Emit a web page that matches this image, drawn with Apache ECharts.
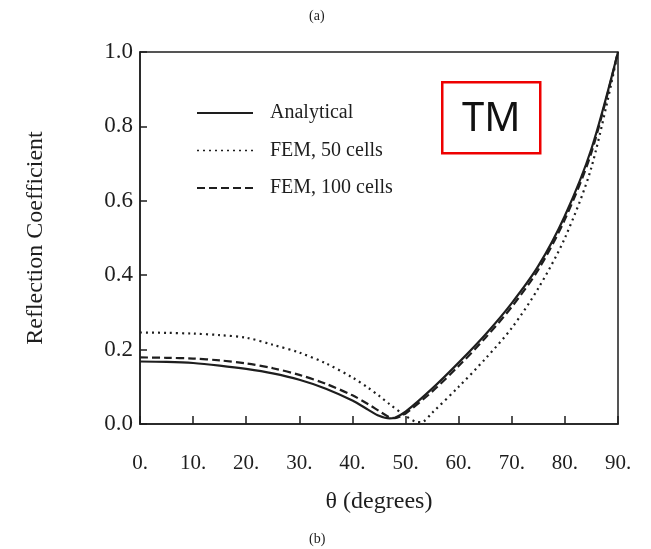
<!DOCTYPE html>
<html>
<head>
<meta charset="utf-8">
<script src="https://cdn.jsdelivr.net/npm/echarts@6/dist/echarts.min.js"></script>
<style>
  html, body { margin: 0; padding: 0; background: #fff; }
  #chart { width: 651px; height: 549px; }
</style>
</head>
<body>
<div id="chart"></div>
<script>
// Incidence angle (degrees) and reflection coefficient for each curve
const analyticalAngles = [0, 5, 10, 15, 20, 25, 30, 35, 40, 43, 45, 47, 48, 50, 55, 60, 65, 70, 75, 80, 85, 90];
const analyticalValues = [0.168, 0.167, 0.164, 0.157, 0.148, 0.136, 0.119, 0.095, 0.063, 0.038, 0.022, 0.015, 0.017, 0.033, 0.095, 0.165, 0.24, 0.325, 0.425, 0.56, 0.74, 1.0];

const fem50Angles = [0, 5, 10, 15, 20, 25, 30, 35, 40, 43, 45, 47, 50, 52, 53, 55, 60, 65, 70, 75, 80, 85, 90];
const fem50Values = [0.246, 0.245, 0.243, 0.239, 0.232, 0.213, 0.192, 0.163, 0.125, 0.097, 0.076, 0.053, 0.022, 0.006, 0.005, 0.03, 0.1, 0.175, 0.258, 0.365, 0.5, 0.69, 1.0];

const fem100Angles = [0, 5, 10, 15, 20, 25, 30, 35, 40, 43, 45, 47, 48, 49, 50, 55, 60, 65, 70, 75, 80, 85, 90];
const fem100Values = [0.179, 0.178, 0.176, 0.171, 0.163, 0.15, 0.132, 0.108, 0.077, 0.053, 0.035, 0.018, 0.016, 0.02, 0.028, 0.087, 0.156, 0.231, 0.315, 0.415, 0.55, 0.73, 1.0];

const seriesNames = ['Analytical', 'FEM, 50 cells', 'FEM, 100 cells'];
const xTicks = [0, 10, 20, 30, 40, 50, 60, 70, 80, 90];
const yTicks = [0.0, 0.2, 0.4, 0.6, 0.8, 1.0];

const ink = '#1e1e1e';
const serif = '"Liberation Serif", "DejaVu Serif", serif';
const dashStyles = ['solid', [2, 4], [8, 4]];

function pairs(xs, ys) { return xs.map((x, i) => [x, ys[i]]); }

// Key drawn as sample line + label rows inside the plot area
const legendRows = [];
seriesNames.forEach((name, i) => {
  const y = 113 + i * 37.5;
  legendRows.push({
    type: 'line', shape: { x1: 197, y1: y, x2: 253, y2: y },
    style: { stroke: ink, lineWidth: i === 1 ? 1.4 : 2, lineDash: dashStyles[i] === 'solid' ? null : dashStyles[i] }
  });
  legendRows.push({
    type: 'text', x: 270, y: y,
    style: { text: name, fontFamily: serif, fontSize: 20, fill: ink, verticalAlign: 'middle' }
  });
});

const chart = echarts.init(document.getElementById('chart'), null, { renderer: 'canvas' });

chart.setOption({
  backgroundColor: '#ffffff',
  animation: false,
  grid: {
    left: 140, right: 33, top: 52, bottom: 125,
    show: true, borderColor: ink, borderWidth: 1.5, backgroundColor: 'transparent'
  },
  xAxis: {
    type: 'value', min: 0, max: 90, interval: 10,
    name: 'θ (degrees)', nameLocation: 'middle', nameGap: 66,
    nameTextStyle: { fontFamily: serif, fontSize: 24, color: ink },
    axisLine: { show: true, lineStyle: { color: ink, width: 1.5 } },
    axisTick: { show: true, inside: true, length: 8, lineStyle: { color: ink, width: 1.5 } },
    axisLabel: {
      margin: 29, fontFamily: serif, fontSize: 21, color: ink,
      formatter: v => xTicks.includes(v) ? v + '.' : ''
    },
    splitLine: { show: false }
  },
  yAxis: {
    type: 'value', min: 0, max: 1, interval: 0.2,
    name: 'Reflection Coefficient', nameLocation: 'middle', nameGap: 92,
    nameTextStyle: { fontFamily: serif, fontSize: 24, color: ink },
    axisLine: { show: true, lineStyle: { color: ink, width: 1.5 } },
    axisTick: { show: true, inside: true, length: 7, lineStyle: { color: ink, width: 1.5 } },
    axisLabel: {
      margin: 7, fontFamily: serif, fontSize: 23, color: ink,
      formatter: v => yTicks.some(t => Math.abs(t - v) < 1e-9) ? v.toFixed(1) : ''
    },
    splitLine: { show: false }
  },
  series: seriesNames.map((name, i) => ({
    name: name, type: 'line', smooth: 0.3, showSymbol: false, symbol: 'none',
    data: [
      pairs(analyticalAngles, analyticalValues),
      pairs(fem50Angles, fem50Values),
      pairs(fem100Angles, fem100Values)
    ][i],
    lineStyle: { color: ink, width: 2.2, type: dashStyles[i] },
    itemStyle: { color: ink }
  })),
  graphic: [
    {
      type: 'text', left: 309, top: 9,
      style: { text: '(a)', fontFamily: serif, fontSize: 14, fill: ink }
    },
    {
      type: 'text', left: 309, top: 532,
      style: { text: '(b)', fontFamily: serif, fontSize: 14, fill: ink }
    },
    ...legendRows,
    {
      type: 'group', left: 441, top: 81,
      children: [
        {
          type: 'rect', shape: { x: 0, y: 0, width: 98, height: 71 },
          style: { fill: '#ffffff', stroke: '#ee0000', lineWidth: 2.5 }
        },
        {
          type: 'text', x: 49, y: 37,
          style: {
            text: 'TM', fontFamily: '"Noto Sans", "Liberation Sans", sans-serif',
            fontSize: 40, fill: '#111', align: 'center', verticalAlign: 'middle'
          }
        }
      ]
    }
  ]
});
</script>
</body>
</html>
